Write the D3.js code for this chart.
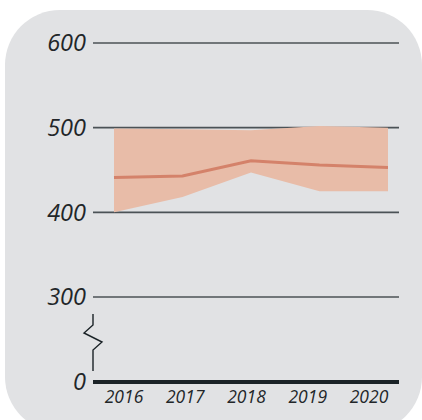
<!DOCTYPE html>
<html>
<head>
<meta charset="utf-8">
<script src="https://cdn.jsdelivr.net/npm/d3@7"></script>
<style>
  body { margin: 0; background: #fff; }
  text { font-family: "Open Sans", sans-serif; font-style: italic; font-weight: 400; fill: #222629; }
</style>
</head>
<body>
<svg width="422" height="420"></svg>
<script>
// chart values
const years = ["2016", "2017", "2018", "2019", "2020"];
const mean = [441, 443, 461, 456, 453];
const lower = [400, 418, 447, 425, 425];
const upper = [499, 498, 497, 502, 500];
const yTicks = [0, 300, 400, 500, 600];

const svg = d3.select("svg");

// rounded grey panel
svg.append("rect")
  .attr("x", 5).attr("y", 10)
  .attr("width", 417).attr("height", 422)
  .attr("rx", 55).attr("ry", 55)
  .attr("fill", "#e1e2e4");

const left = 93, right = 399;

// broken axis: 0..300 squeezed
const y = d3.scaleLinear()
  .domain([0, 300, 600])
  .range([382, 297, 43]);

const x = d3.scalePoint().domain(years).range([114, 388]);
const xLab = d3.scalePoint().domain(years).range([124, 369]);

// grid lines
svg.append("g")
  .selectAll("line")
  .data(yTicks)
  .join("line")
    .attr("x1", left).attr("x2", right)
    .attr("y1", d => y(d)).attr("y2", d => y(d))
    .attr("stroke", d => d === 0 ? "#1b2327" : "#4b5256")
    .attr("stroke-width", d => d === 0 ? 4 : 1.6);

// y labels
svg.append("g")
  .selectAll("text")
  .data(yTicks)
  .join("text")
    .attr("x", 86)
    .attr("y", d => y(d))
    .attr("dy", "0.36em")
    .attr("text-anchor", "end")
    .style("font-size", "23.5px")
    .text(d => d);

// band
const band = svg.append("g");
band.append("path")
  .datum(years.map((d, i) => i))
  .attr("fill", "#e8bca8")
  .attr("d", d3.area()
    .x(i => x(years[i]))
    .y0(i => y(lower[i]))
    .y1(i => y(upper[i])));

band.append("path")
  .datum(years.map((d, i) => i))
  .attr("fill", "none")
  .attr("stroke", "#d4826a")
  .attr("stroke-width", 3)
  .attr("d", d3.line()
    .x(i => x(years[i]))
    .y(i => y(mean[i])));

// axis break mark
const bx = left;
svg.append("path")
  .attr("fill", "none")
  .attr("stroke", "#1b2327")
  .attr("stroke-width", 1.4)
  .attr("d", `M${bx},314 V325 L${bx - 9},333 L${bx + 9},342 L${bx},350 V371`);

// year labels
svg.append("g")
  .selectAll("text")
  .data(years)
  .join("text")
    .attr("x", d => xLab(d))
    .attr("y", 403)
    .attr("text-anchor", "middle")
    .style("font-size", "17.5px")
    .text(d => d);
</script>
</body>
</html>
